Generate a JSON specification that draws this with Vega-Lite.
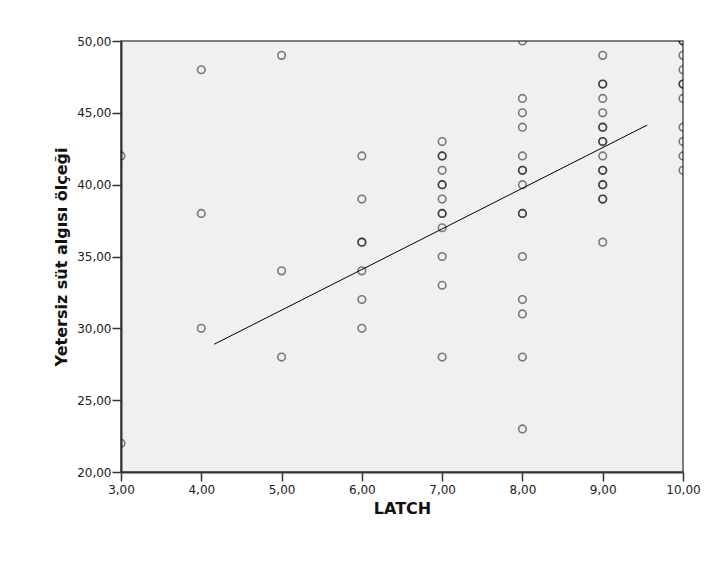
{
  "$schema": "https://vega.github.io/schema/vega-lite/v6.json",
  "width": 562,
  "height": 431,
  "autosize": "none",
  "padding": {"left": 121, "top": 41, "right": 32, "bottom": 97},
  "background": "white",
  "config": {
    "view": {"fill": "#F0F0F0", "stroke": "#555", "strokeWidth": 1.5},
    "axis": {
      "labelFont": "DejaVu Sans",
      "titleFont": "DejaVu Sans",
      "labelFontSize": 12,
      "labelColor": "#222",
      "titleColor": "#111",
      "titleFontWeight": "bold",
      "domainColor": "#333",
      "domainWidth": 2,
      "tickColor": "#333",
      "tickWidth": 1.5,
      "tickSize": 9,
      "grid": false
    }
  },
  "datasets": {
    "pts": [
      {"latch": 3, "score": 42}, {"latch": 3, "score": 22},
      {"latch": 4, "score": 48}, {"latch": 4, "score": 38}, {"latch": 4, "score": 30},
      {"latch": 5, "score": 49}, {"latch": 5, "score": 34}, {"latch": 5, "score": 28},
      {"latch": 6, "score": 42}, {"latch": 6, "score": 39}, {"latch": 6, "score": 36}, {"latch": 6, "score": 36}, {"latch": 6, "score": 34}, {"latch": 6, "score": 32}, {"latch": 6, "score": 30},
      {"latch": 7, "score": 43}, {"latch": 7, "score": 42}, {"latch": 7, "score": 42}, {"latch": 7, "score": 41}, {"latch": 7, "score": 40}, {"latch": 7, "score": 40}, {"latch": 7, "score": 39}, {"latch": 7, "score": 38}, {"latch": 7, "score": 38}, {"latch": 7, "score": 37}, {"latch": 7, "score": 35}, {"latch": 7, "score": 33}, {"latch": 7, "score": 28},
      {"latch": 8, "score": 50}, {"latch": 8, "score": 46}, {"latch": 8, "score": 45}, {"latch": 8, "score": 44}, {"latch": 8, "score": 42}, {"latch": 8, "score": 41}, {"latch": 8, "score": 41}, {"latch": 8, "score": 40}, {"latch": 8, "score": 38}, {"latch": 8, "score": 38}, {"latch": 8, "score": 35}, {"latch": 8, "score": 32}, {"latch": 8, "score": 31}, {"latch": 8, "score": 28}, {"latch": 8, "score": 23},
      {"latch": 9, "score": 49}, {"latch": 9, "score": 47}, {"latch": 9, "score": 47}, {"latch": 9, "score": 46}, {"latch": 9, "score": 45}, {"latch": 9, "score": 44}, {"latch": 9, "score": 44}, {"latch": 9, "score": 43}, {"latch": 9, "score": 43}, {"latch": 9, "score": 42}, {"latch": 9, "score": 41}, {"latch": 9, "score": 41}, {"latch": 9, "score": 40}, {"latch": 9, "score": 40}, {"latch": 9, "score": 39}, {"latch": 9, "score": 39}, {"latch": 9, "score": 36},
      {"latch": 10, "score": 50}, {"latch": 10, "score": 50}, {"latch": 10, "score": 49}, {"latch": 10, "score": 48}, {"latch": 10, "score": 47}, {"latch": 10, "score": 47}, {"latch": 10, "score": 46}, {"latch": 10, "score": 44}, {"latch": 10, "score": 43}, {"latch": 10, "score": 42}, {"latch": 10, "score": 41}
    ],
    "fit": [
      {"latch": 4.16, "score": 28.89},
      {"latch": 9.555, "score": 44.15}
    ]
  },
  "layer": [
    {
      "data": {"name": "pts"},
      "mark": {"type": "point", "shape": "circle", "filled": false, "size": 58, "stroke": "#000", "strokeOpacity": 0.7, "strokeWidth": 1.6, "clip": true},
      "encoding": {
        "x": {
          "field": "latch", "type": "quantitative",
          "scale": {"domain": [3, 10], "nice": false, "zero": false},
          "axis": {"title": "LATCH", "titleFontSize": 16, "titlePadding": 5, "labelPadding": 3, "values": [3,4,5,6,7,8,9,10], "labelExpr": "replace(format(datum.value, '.2f'), '.', ',')", "labelFlush": false}
        },
        "y": {
          "field": "score", "type": "quantitative",
          "scale": {"domain": [20, 50], "nice": false, "zero": false},
          "axis": {"title": "Yetersiz süt algısı ölçeği", "titleFontSize": 16, "titlePadding": 7, "labelPadding": 1, "values": [20,25,30,35,40,45,50], "labelExpr": "replace(format(datum.value, '.2f'), '.', ',')", "labelFlush": false}
        }
      }
    },
    {
      "data": {"name": "fit"},
      "mark": {"type": "line", "color": "#000", "strokeWidth": 1},
      "encoding": {
        "x": {"field": "latch", "type": "quantitative"},
        "y": {"field": "score", "type": "quantitative"}
      }
    }
  ]
}
